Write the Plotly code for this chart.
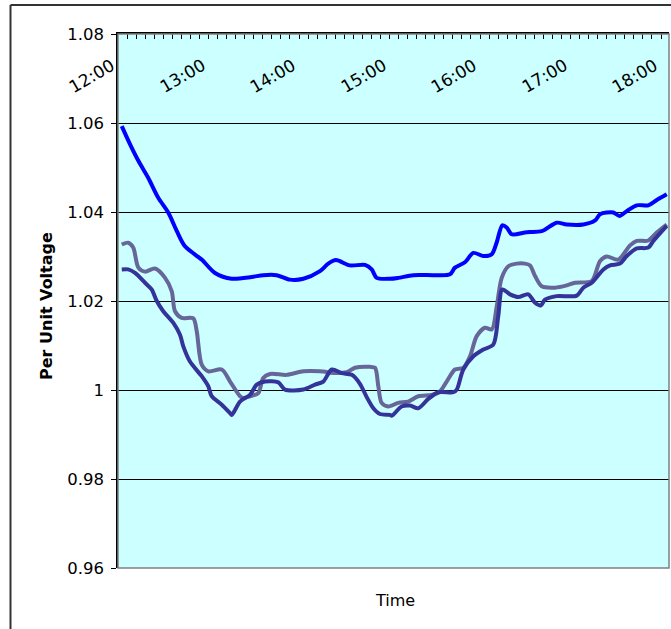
import plotly.graph_objects as go

# ---- data (time in minutes after 12:00, per-unit voltage) ----
blue_t = [2.5, 8, 13.5, 20, 26.7, 33.3, 39, 44.4, 55.5, 64.3, 75.4, 88.6, 96.3, 105.2, 114,
          122.9, 133.9, 139.4, 144.5, 153.6, 163.8, 168.2, 171.5, 180.3, 185.8, 195.8, 210.2,
          220.1, 223.4, 230, 235.6, 242.2, 247.8, 251, 254.8, 257.7, 261, 269.8, 273.1, 280.9,
          290.8, 297.5, 308.5, 316.3, 319.6, 328.4, 332.4, 337.3, 343.9, 351.6, 357.2, 363.8]
blue_v = [1.0593, 1.0552, 1.0515, 1.0477, 1.0432, 1.0399, 1.0357, 1.0323, 1.0293, 1.0263, 1.0250,
          1.0254, 1.0258, 1.0258, 1.0248, 1.0250, 1.0267, 1.0284, 1.0292, 1.0280, 1.0281, 1.0271,
          1.0252, 1.0250, 1.0252, 1.0258, 1.0258, 1.0260, 1.0275, 1.0287, 1.0308, 1.0301, 1.0305,
          1.0331, 1.0370, 1.0365, 1.0350, 1.0354, 1.0355, 1.0357, 1.0376, 1.0372, 1.0372, 1.0381,
          1.0395, 1.0399, 1.0391, 1.0402, 1.0415, 1.0415, 1.0427, 1.0440]

dark_t = [2.5, 6.8, 11.3, 17.9, 22.3, 25.7, 30, 36.7, 41.1, 43.3, 47.7, 55.5, 59.9, 62.1, 68.8,
          74.3, 75.4, 80.9, 87.5, 92, 97.5, 106.3, 110.7, 122.9, 130.6, 136.1, 141.7, 148.3, 155,
          160.4, 164.9, 169.3, 173.7, 180.3, 181.5, 188, 193.6, 199.1, 205.7, 212.4, 222.3, 224.6,
          228.9, 235.6, 242.2, 248.8, 252.1, 254.8, 259.9, 265.4, 272, 276.5, 280.3, 283.1, 290.8,
          304.1, 308.5, 314.1, 321.8, 326.2, 332.8, 337.3, 343.9, 351.6, 354.9, 363.8]
dark_v = [1.0271, 1.0271, 1.0263, 1.0241, 1.0226, 1.0200, 1.0177, 1.0151, 1.0124, 1.0098, 1.0064,
          1.0031, 1.0008, 0.9986, 0.9967, 0.9948, 0.9944, 0.9974, 0.9989, 1.0012, 1.0019, 1.0017,
          1.0001, 1.0001, 1.0012, 1.0019, 1.0046, 1.0038, 1.0034, 1.0014, 0.9984, 0.9959, 0.9946,
          0.9944, 0.9942, 0.9963, 0.9965, 0.9959, 0.9980, 0.9995, 0.9995, 1.0001, 1.0046, 1.0076,
          1.0091, 1.0102, 1.0166, 1.0226, 1.0215, 1.0209, 1.0215, 1.0196, 1.0190, 1.0203, 1.0211,
          1.0212, 1.0230, 1.0241, 1.0271, 1.0280, 1.0284, 1.0301, 1.0318, 1.0320, 1.0335, 1.0369]

gray_t = [2.5, 6.8, 10.1, 13.5, 17.9, 24.5, 31.2, 35.6, 37.8, 42.2, 49.9, 52.2, 55.5, 59.9, 68.8,
          74.3, 80.9, 83.1, 87.5, 93, 96.3, 100.8, 111.8, 122.9, 133.9, 145, 151.6, 157.1, 167.1,
          170.4, 172.6, 174.8, 179.2, 185.8, 192.5, 199.1, 208, 213.5, 217.9, 223.4, 228.9, 233.4,
          237.8, 243.3, 247.8, 251.1, 254.4, 258.8, 264.3, 269.8, 273.2, 276.5, 280.9, 289.7, 297.5,
          303, 314.1, 319.6, 324, 331.7, 339.5, 343.9, 351.6, 357.2, 363.8]
gray_v = [1.0327, 1.0331, 1.0320, 1.0275, 1.0266, 1.0273, 1.0252, 1.0222, 1.0177, 1.0162, 1.0161,
          1.0132, 1.0057, 1.0042, 1.0046, 1.0019, 0.9986, 0.9982, 0.9986, 0.9993, 1.0027, 1.0036,
          1.0034, 1.0042, 1.0042, 1.0038, 1.0040, 1.0050, 1.0052, 1.0050, 1.0008, 0.9971, 0.9963,
          0.9971, 0.9974, 0.9986, 0.9989, 0.9997, 1.0019, 1.0046, 1.0050, 1.0076, 1.0121, 1.0140,
          1.0136, 1.0188, 1.0252, 1.0278, 1.0284, 1.0284, 1.0280, 1.0256, 1.0233, 1.0230, 1.0235,
          1.0241, 1.0245, 1.0290, 1.0300, 1.0293, 1.0325, 1.0335, 1.0336, 1.0354, 1.0372]

time_ticks = [0, 60, 120, 180, 240, 300, 360]
time_labels = ["12:00", "13:00", "14:00", "15:00", "16:00", "17:00", "18:00"]
y_ticks = [0.96, 0.98, 1.00, 1.02, 1.04, 1.06, 1.08]
y_labels = ["0.96", "0.98", "1", "1.02", "1.04", "1.06", "1.08"]

FONT = "DejaVu Sans"

fig = go.Figure()
for t, v, c in [(gray_t, gray_v, "#666699"), (dark_t, dark_v, "#333399"), (blue_t, blue_v, "#0000FF")]:
    fig.add_trace(go.Scatter(x=t, y=v, mode="lines",
                             line=dict(color=c, width=4, shape="spline", smoothing=0.8),
                             showlegend=False, hoverinfo="skip"))

# pixel helpers for paper coordinates (plot area 118..669 x 34..568)
L, R, T, B = 118, 669, 34, 568
def px(x):
    return (x - L) / (R - L)
def py(y):
    return (B - y) / (B - T)

annotations = []
for tv, tl in zip(time_ticks, time_labels):
    annotations.append(dict(x=tv, xref="x", y=1, yref="paper", text=tl, showarrow=False,
                            textangle=-30, xanchor="center", yanchor="middle",
                            xshift=-26.5, yshift=-41.5,
                            font=dict(family=FONT, size=17, color="#000000")))
annotations.append(dict(x=px(395), xref="paper", y=py(600), yref="paper", text="Time",
                        showarrow=False, xanchor="center", yanchor="middle",
                        font=dict(family=FONT, size=16, color="#000000")))
annotations.append(dict(x=px(46), xref="paper", y=py(306), yref="paper", text="<b>Per Unit Voltage</b>",
                        showarrow=False, textangle=-90, xanchor="center", yanchor="middle",
                        font=dict(family=FONT, size=16, color="#000000")))

shapes = [
    dict(type="rect", xref="paper", yref="paper", x0=0, x1=1, y0=0, y1=1,
         line=dict(color="#808080", width=1.5), layer="above"),
    dict(type="line", xref="paper", yref="paper", x0=px(10.5), x1=px(10.5), y0=py(5), y1=py(640),
         line=dict(color="#333333", width=2)),
    dict(type="line", xref="paper", yref="paper", x0=px(10.5), x1=px(690), y0=py(5), y1=py(5),
         line=dict(color="#333333", width=2)),
]

fig.update_layout(
    width=671, height=629,
    margin=dict(l=L, r=671 - R, t=T, b=629 - B, pad=0),
    paper_bgcolor="#FFFFFF", plot_bgcolor="#CCFFFF",
    font=dict(family=FONT, size=16, color="#000000"),
    annotations=annotations, shapes=shapes,
    xaxis=dict(range=[0, 365.3], side="top", showgrid=False, zeroline=False,
               showline=True, linecolor="#000000", linewidth=1.5,
               ticks="inside", tick0=0, dtick=6, ticklen=5, tickcolor="#000000", tickwidth=1,
               showticklabels=False, fixedrange=True),
    yaxis=dict(range=[0.96, 1.08], tickvals=y_ticks, ticktext=y_labels,
               showgrid=True, gridcolor="#000000", gridwidth=1, zeroline=False,
               showline=True, linecolor="#000000", linewidth=1.5,
               ticks="outside", ticklen=5, tickcolor="#000000", ticklabelstandoff=4,
               tickfont=dict(family=FONT, size=16.5, color="#000000"), fixedrange=True),
)

fig.write_html("out.html", config={"displayModeBar": False},
               post_script="document.body.style.margin='0px';document.body.style.overflow='hidden';")
